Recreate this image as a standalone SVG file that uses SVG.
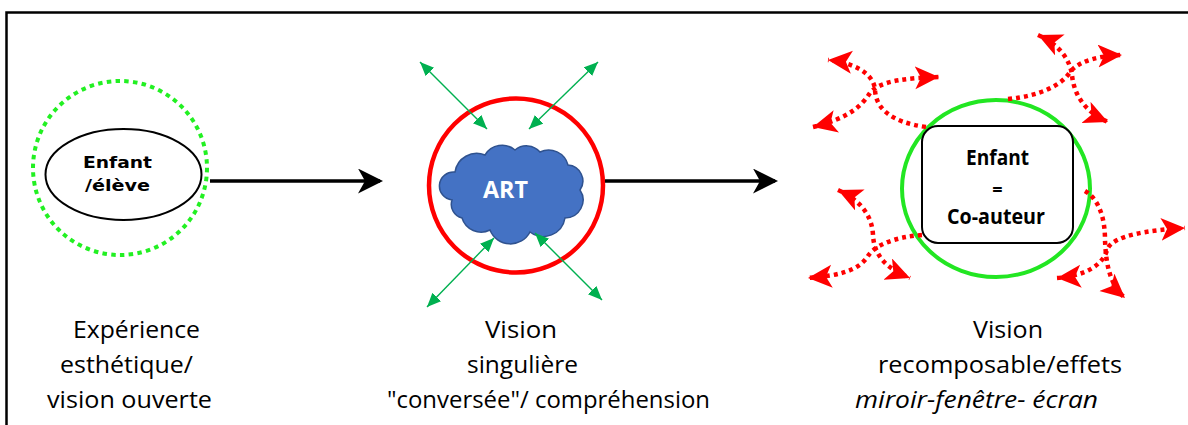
<svg xmlns="http://www.w3.org/2000/svg" width="1188" height="425" viewBox="0 0 1188 425">
  <style>
    .lbl { font-family: "Open Sans", "Liberation Sans", sans-serif; font-size: 23.5px; fill: #000; }
    .red { fill: none; stroke: #FF0000; stroke-width: 4.5; stroke-dasharray: 4 4; marker-end: url(#redHead); }
    .red2 { marker-start: url(#redHead); }
    .grn { stroke: #00B050; stroke-width: 1.4; fill: none; marker-start: url(#grnHead); marker-end: url(#grnHead); }
    .blk { stroke: #000; stroke-width: 3.5; fill: none; marker-end: url(#blkHead); }
  </style>
  <defs>
    <marker id="blkHead" markerUnits="userSpaceOnUse" markerWidth="26" markerHeight="26" refX="22" refY="12.5" orient="auto">
      <path d="M0,0 L25,12.5 L0,25 L7,12.5 z" fill="#000"/>
    </marker>
    <marker id="redHead" markerUnits="userSpaceOnUse" markerWidth="26" markerHeight="24" refX="24" refY="11.5" orient="auto-start-reverse">
      <path d="M0,0 L24,11.5 L0,23 L6,11.5 z" fill="#FF0000"/>
    </marker>
    <marker id="grnHead" markerUnits="userSpaceOnUse" markerWidth="16" markerHeight="14" refX="14" refY="6" orient="auto-start-reverse">
      <path d="M0,0 L14,6 L0,12 z" fill="#00B050"/>
    </marker>
  </defs>

  <rect width="1188" height="425" fill="#fff"/>
  <path id="frame" d="M6.5,430 V12.5 H1195" fill="none" stroke="#000" stroke-width="2.5"/>

  <g id="node-enfant-eleve">
    <circle cx="120" cy="168" r="87" fill="none" stroke="#22F022" stroke-width="4" stroke-dasharray="4.5 4.3"/>
    <ellipse cx="123.5" cy="174.5" rx="78" ry="45.5" fill="#fff" stroke="#000" stroke-width="2"/>
    <text x="117.5" y="168" text-anchor="middle" font-family="'DejaVu Sans', sans-serif" font-weight="bold" font-size="16" textLength="69" lengthAdjust="spacingAndGlyphs">Enfant</text>
    <text x="117.5" y="191" text-anchor="middle" font-family="'DejaVu Sans', sans-serif" font-weight="bold" font-size="16" textLength="65" lengthAdjust="spacingAndGlyphs">/élève</text>
  </g>

  <g id="node-art">
    <circle cx="516" cy="185.5" r="87" fill="none" stroke="#FF0000" stroke-width="4.5"/>
    <path d="M452,200 A14,14 0 0 1 455,172 A22,22 0 0 1 485,155 A20,20 0 0 1 515,150 A18,18 0 0 1 540,152 A20,20 0 0 1 568,165 A16,16 0 0 1 580,190 A18,18 0 0 1 565,218 A22,22 0 0 1 530,232 A22,22 0 0 1 490,230 A20,20 0 0 1 462,218 A14,14 0 0 1 452,200 Z" fill="#4472C4" stroke="#2F528F" stroke-width="1.5"/>
    <text x="505.5" y="198" text-anchor="middle" font-family="'Open Sans', sans-serif" font-weight="bold" font-size="24" fill="#fff" textLength="45" lengthAdjust="spacingAndGlyphs">ART</text>
  </g>

  <g id="node-coauteur">
    <ellipse cx="996" cy="188.5" rx="94" ry="88.5" fill="none" stroke="#22E622" stroke-width="4"/>
    <rect x="922" y="126" width="151" height="117" rx="16" ry="16" fill="#fff" stroke="#000" stroke-width="2"/>
    <text x="997.5" y="165" text-anchor="middle" font-family="'Open Sans', sans-serif" font-weight="bold" font-size="20.5" textLength="63" lengthAdjust="spacingAndGlyphs">Enfant</text>
    <text x="997.5" y="196" text-anchor="middle" font-family="'Open Sans', sans-serif" font-weight="bold" font-size="18">=</text>
    <text x="996" y="224" text-anchor="middle" font-family="'Open Sans', sans-serif" font-weight="bold" font-size="20.5" textLength="98" lengthAdjust="spacingAndGlyphs">Co-auteur</text>
  </g>

  <g id="connectors">
    <line class="blk" x1="210" y1="181" x2="380" y2="181"/>
    <line class="blk" x1="605" y1="181" x2="775" y2="181"/>

    <line class="grn" x1="420" y1="62" x2="487" y2="129"/>
    <line class="grn" x1="598" y1="62" x2="529" y2="129"/>
    <line class="grn" x1="494" y1="238" x2="427" y2="307"/>
    <line class="grn" x1="535" y1="233" x2="602" y2="300"/>

    <path class="red" d="M926,127 C890,122 876,108 875,90 C874,72 850,62 828,60"/>
    <path class="red red2" d="M813,127 C850,118 862,105 870,93 C880,80 910,78 939,77"/>
    <path class="red" d="M1008,99 C1040,96 1062,85 1070,72 C1080,60 1100,56 1122,55"/>
    <path class="red red2" d="M1038,35 C1060,45 1070,60 1072,75 C1074,95 1085,112 1108,122"/>
    <path class="red" d="M922,235 C895,237 875,245 868,256 C858,272 835,276 808,278"/>
    <path class="red red2" d="M838,190 C860,200 872,215 873,235 C874,258 890,270 910,278"/>
    <path class="red" d="M1085,191 C1100,200 1105,220 1105,240 C1106,265 1110,285 1125,298"/>
    <path class="red red2" d="M1057,278 C1085,276 1103,265 1107,250 C1112,235 1150,230 1185,228"/>
  </g>

  <g id="labels">
    <text class="lbl" x="73" y="338" textLength="127" lengthAdjust="spacingAndGlyphs">Expérience</text>
    <text class="lbl" x="60" y="373" textLength="133" lengthAdjust="spacingAndGlyphs">esthétique/</text>
    <text class="lbl" x="47" y="408" textLength="165" lengthAdjust="spacingAndGlyphs">vision ouverte</text>

    <text class="lbl" x="485" y="338" textLength="72" lengthAdjust="spacingAndGlyphs">Vision</text>
    <text class="lbl" x="467" y="373" textLength="111" lengthAdjust="spacingAndGlyphs">singulière</text>
    <text class="lbl" x="387" y="408" textLength="323" lengthAdjust="spacingAndGlyphs">"conversée"/ compréhension</text>

    <text class="lbl" x="973" y="338" textLength="70" lengthAdjust="spacingAndGlyphs">Vision</text>
    <text class="lbl" x="878" y="373" textLength="244" lengthAdjust="spacingAndGlyphs">recomposable/effets</text>
    <text class="lbl" x="855" y="408" font-style="italic" textLength="243" lengthAdjust="spacingAndGlyphs">miroir-fenêtre- écran</text>
  </g>
</svg>
